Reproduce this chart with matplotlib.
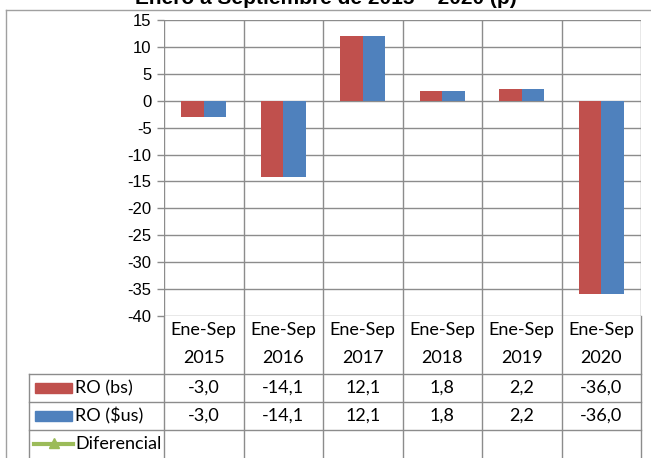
import matplotlib
matplotlib.use("Agg")
import matplotlib.pyplot as plt
import numpy as np
from matplotlib.patches import Rectangle

title = "Enero a Septiembre de 2015 – 2020 (p)"
categories = ["Ene-Sep\n2015", "Ene-Sep\n2016", "Ene-Sep\n2017", "Ene-Sep\n2018", "Ene-Sep\n2019", "Ene-Sep\n2020"]
ro_bs = [-3.0, -14.1, 12.1, 1.8, 2.2, -36.0]
ro_us = [-3.0, -14.1, 12.1, 1.8, 2.2, -36.0]
series_names = ["RO (bs)", "RO ($us)", "Diferencial"]
yticks = list(range(-40, 16, 5))

RED = "#C0504D"
BLUE = "#4F81BD"
GREEN = "#9BBB59"
GRID = "#8C8C8C"

W, H = 651, 458
fig = plt.figure(figsize=(W / 100, H / 100), dpi=100)

# plot area in pixel coords
x0, x1 = 164, 641
ytop, ybot = 20, 316
ax = fig.add_axes([x0 / W, 1 - ybot / H, (x1 - x0) / W, (ybot - ytop) / H])
n = len(categories)
x = np.arange(n)
bw = 0.285
ax.bar(x - bw / 2, ro_bs, width=bw, color=RED, zorder=3)
ax.bar(x + bw / 2, ro_us, width=bw, color=BLUE, zorder=3)
ax.set_xlim(-0.5, n - 0.5)
ax.set_ylim(-40, 15)
ax.set_yticks(yticks)
ax.set_yticklabels([str(v) for v in yticks], fontfamily="Liberation Sans", fontsize=12)
ax.set_xticks([])
ax.tick_params(axis="y", length=5, width=1, color=GRID, pad=4)
for v in yticks:
    ax.axhline(v, color=GRID, lw=1, zorder=1)
for b in np.arange(-0.5, n, 1.0):
    ax.axvline(b, color=GRID, lw=1, zorder=1)
for s in ax.spines.values():
    s.set_visible(False)

# overlay for table / border / title
ov = fig.add_axes([0, 0, 1, 1], zorder=-1)
ov.set_xlim(0, W)
ov.set_ylim(H, 0)
ov.axis("off")
ov.patch.set_alpha(0)

lc = GRID
# outer border
ov.plot([6, 6], [10, H], color="#A0A0A0", lw=1)
ov.plot([6, W], [10, 10], color="#A0A0A0", lw=1)

# table
col_edges = np.linspace(x0, x1, n + 1)
row_lines = [374, 402, 430]
for xe in col_edges:
    ov.plot([xe, xe], [ybot, H], color=lc, lw=1)
ov.plot([29, 29], [374, H], color=lc, lw=1)
for yl in row_lines:
    ov.plot([29, x1], [yl, yl], color=lc, lw=1)

tfont = dict(fontfamily="Lato", fontsize=13, ha="center", va="center", color="black")
for i, cat in enumerate(categories):
    cx = (col_edges[i] + col_edges[i + 1]) / 2
    l1, l2 = cat.split("\n")
    ov.text(cx, 330, l1, **tfont)
    ov.text(cx, 358, l2, **tfont)
    ov.text(cx, 388, f"{ro_bs[i]:.1f}".replace(".", ","), **tfont)
    ov.text(cx, 416, f"{ro_us[i]:.1f}".replace(".", ","), **tfont)

# legend keys
ov.add_patch(Rectangle((35, 383), 37, 10, color=RED))
ov.add_patch(Rectangle((35, 411), 37, 10, color=BLUE))
ov.plot([34, 73], [444, 444], color=GREEN, lw=3)
ov.plot([53.5], [443], marker="^", color=GREEN, markersize=7)
lfont = dict(fontfamily="Lato", fontsize=13, ha="left", va="center", color="black")
ov.text(75, 388, series_names[0], **lfont)
ov.text(75, 416, series_names[1], **lfont)
ov.text(75, 444, series_names[2], **lfont)

# title (cut at top)
ov.text(W / 2, 4, title, fontfamily="Liberation Sans", fontweight="bold", fontsize=15,
        ha="center", va="baseline")

fig.savefig("out.png", dpi=100)
